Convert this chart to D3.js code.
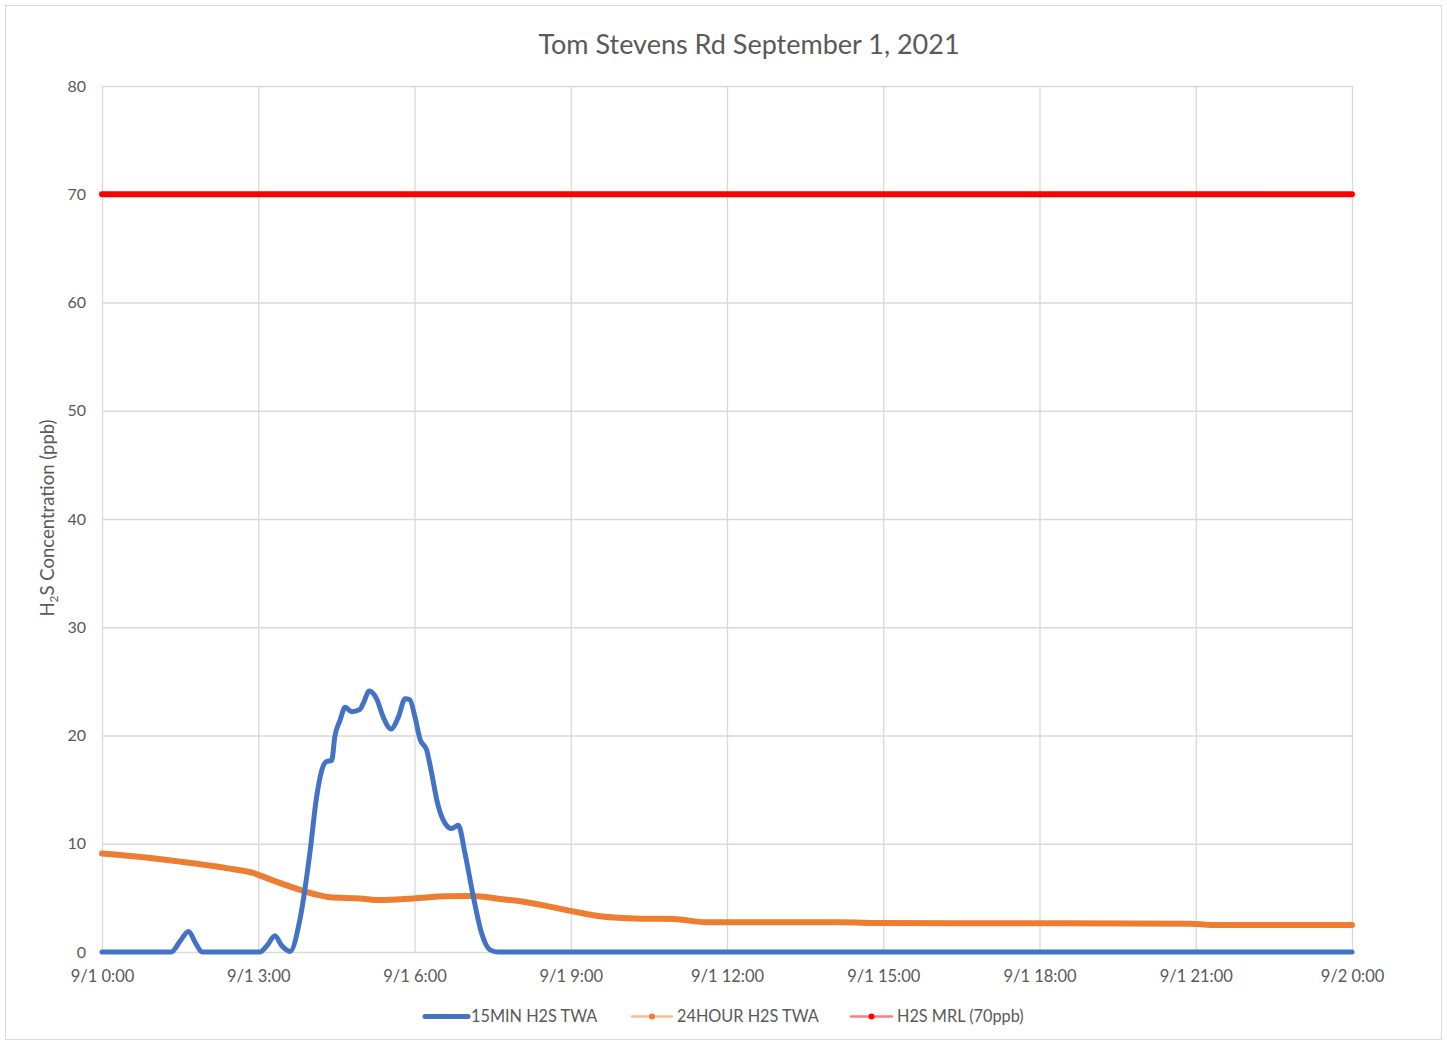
<!DOCTYPE html>
<html><head><meta charset="utf-8">
<script src="https://cdn.jsdelivr.net/npm/d3@7"></script>
<style>
body{margin:0;background:#fff;}
text{font-family:Lato,"Open Sans",sans-serif;fill:#595959;}
</style></head>
<body><svg id="c" width="1447" height="1043"></svg>
<script>
// Hours since 9/1 0:00
const blueHours = [0,1.33,1.5,1.66,1.8,1.92,3.03,3.17,3.32,3.45,3.61,3.8,3.99,4.12,4.22,4.31,4.41,4.47,4.57,4.67,4.79,4.95,5.02,5.13,5.27,5.4,5.55,5.69,5.82,5.91,6.01,6.11,6.23,6.33,6.43,6.55,6.71,6.84,6.97,7.13,7.29,7.45,7.6,24];
const blueValues = [0,0,1.0,1.9,0.8,0,0,0.6,1.5,0.6,0.05,3.0,9.1,14.3,16.8,17.6,17.7,19.9,21.4,22.6,22.2,22.4,23.0,24.1,23.4,21.7,20.6,21.7,23.4,23.3,21.7,19.6,18.7,16.5,14.0,12.2,11.4,11.7,9.1,5.1,1.7,0.2,0,0];
const orangeHours = [0,0.6,1.5,2.39,2.9,3.29,3.8,4.12,4.38,4.95,5.34,5.98,6.62,7.13,7.64,8.09,9.05,9.56,10.33,10.97,11.61,14.17,15.0,18,20.9,21.3,24];
const orangeValues = [9.1,8.85,8.35,7.75,7.3,6.6,5.75,5.3,5.05,4.95,4.8,4.95,5.15,5.17,4.9,4.65,3.75,3.3,3.08,3.05,2.75,2.74,2.68,2.65,2.62,2.5,2.5];
const redHours = [0,24];
const redValues = [70,70];
const xTickHours = [0,3,6,9,12,15,18,21,24];
const xTickLabels = ["9/1 0:00","9/1 3:00","9/1 6:00","9/1 9:00","9/1 12:00","9/1 15:00","9/1 18:00","9/1 21:00","9/2 0:00"];
const yTicks = [0,10,20,30,40,50,60,70,80];
const seriesNames = ["15MIN H2S TWA","24HOUR H2S TWA","H2S MRL (70ppb)"];
const colors = ["#4472C4","#ED7D31","#FF0000"];

const svg = d3.select("#c");
svg.append("rect").attr("x",5.5).attr("y",5.5).attr("width",1436).attr("height",1034)
  .attr("fill","#fff").attr("stroke","#d9d9d9");

const x = d3.scaleLinear().domain([0,24]).range([102,1352]);
const y = d3.scaleLinear().domain([0,80]).range([952,86]);

// grid
const g = svg.append("g");
g.selectAll(".hg").data(yTicks).join("line")
  .attr("x1",x(0)).attr("x2",x(24)).attr("y1",d=>y(d)+0.5).attr("y2",d=>y(d)+0.5)
  .attr("stroke","#d9d9d9").attr("stroke-width",1.3);
g.selectAll(".vg").data(xTickHours).join("line")
  .attr("y1",y(0)).attr("y2",y(80)).attr("x1",d=>x(d)+0.5).attr("x2",d=>x(d)+0.5)
  .attr("stroke","#d9d9d9").attr("stroke-width",1.3);

// axes labels
const yAxis = d3.axisLeft(y).tickValues(yTicks).tickSize(0).tickPadding(16);
const ya = svg.append("g").attr("transform",`translate(${x(0)},0)`).call(yAxis);
ya.select(".domain").remove();
ya.selectAll("text").attr("font-size",16).style("font-family","Lato,sans-serif").attr("fill","#595959");
const xAxis = d3.axisBottom(x).tickValues(xTickHours).tickFormat((d,i)=>xTickLabels[i]).tickSize(0).tickPadding(18);
const xa = svg.append("g").attr("transform",`translate(0,${y(0)})`).call(xAxis);
xa.select(".domain").remove();
xa.selectAll("text").attr("font-size",16.5).style("font-family","Lato,sans-serif").attr("fill","#595959");

// title
svg.append("text").attr("x",749).attr("y",54).attr("text-anchor","middle").attr("font-size",27).text("Tom Stevens Rd September 1, 2021");

// y title
const yt = svg.append("text").attr("transform","translate(54,518) rotate(-90)").attr("text-anchor","middle").attr("font-size",18.5);
yt.append("tspan").text("H");
yt.append("tspan").attr("font-size",12).attr("dy",4).text("2");
yt.append("tspan").attr("dy",-4).text("S Concentration (ppb)");

// lines
const line = d3.line().x(d=>x(d[0])).y(d=>y(d[1])).curve(d3.curveMonotoneX);
const mk = (h,v)=>h.map((t,i)=>[t,v[i]]);
svg.append("path").datum(mk(redHours,redValues)).attr("d",d3.line().x(d=>x(d[0])).y(d=>y(d[1])))
  .attr("fill","none").attr("stroke",colors[2]).attr("stroke-width",6).attr("stroke-linecap","round");
svg.append("path").datum(mk(orangeHours,orangeValues)).attr("d",line)
  .attr("fill","none").attr("stroke",colors[1]).attr("stroke-width",6).attr("stroke-linecap","round").attr("stroke-linejoin","round");
svg.append("path").datum(mk(blueHours,blueValues)).attr("d",line)
  .attr("fill","none").attr("stroke",colors[0]).attr("stroke-width",5).attr("stroke-linecap","round").attr("stroke-linejoin","round");

// legend
const leg = [
  {x1:425,x2:468,tx:471,w:5,op:1,r:2},
  {x1:632,x2:672,tx:677,w:2.5,op:0.5,r:3},
  {x1:851,x2:892,tx:897,w:2.5,op:0.5,r:3}
];
leg.forEach((l,i)=>{
  svg.append("line").attr("x1",l.x1).attr("x2",l.x2).attr("y1",1016.5).attr("y2",1016.5)
    .attr("stroke",colors[i]).attr("stroke-width",l.w).attr("stroke-opacity",l.op).attr("stroke-linecap","round");
  svg.append("circle").attr("cx",(l.x1+l.x2)/2).attr("cy",1016.5).attr("r",l.r).attr("fill",colors[i]);
  svg.append("text").attr("x",l.tx).attr("y",1022).attr("font-size",16.3).text(seriesNames[i]);
});
</script></body></html>
